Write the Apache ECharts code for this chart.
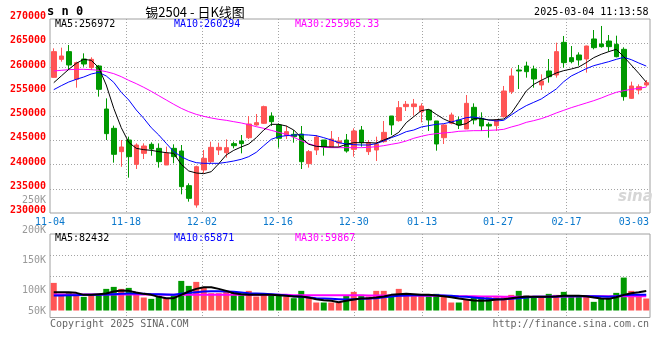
<!DOCTYPE html>
<html>
<head>
<meta charset="utf-8">
<script src="https://cdn.jsdelivr.net/npm/echarts@6/dist/echarts.min.js"></script>
<style>html,body{margin:0;padding:0;background:#fff}#c{width:660px;height:360px}</style>
</head>
<body>
<div id="c"></div>
<script>
// ---- data ----
const dates = ['11-04','11-05','11-06','11-07','11-08','11-11','11-12','11-13','11-14','11-15',
'11-18','11-19','11-20','11-21','11-22','11-25','11-26','11-27','11-28','11-29',
'12-02','12-03','12-04','12-05','12-06','12-09','12-10','12-11','12-12','12-13',
'12-16','12-17','12-18','12-19','12-20','12-23','12-24','12-25','12-26','12-27',
'12-30','12-31','01-02','01-03','01-06','01-07','01-08','01-09','01-10','01-13',
'01-14','01-15','01-16','01-17','01-20','01-21','01-22','01-23','01-24','01-27',
'02-05','02-06','02-07','02-10','02-11','02-12','02-13','02-14','02-17','02-18',
'02-19','02-20','02-21','02-24','02-25','02-26','02-27','02-28','03-03','03-04'];

const open = [257970,261680,263270,257560,261750,259970,260310,251440,247460,242650,
245050,240030,242300,244160,243330,239900,243330,242780,235640,231650,
238870,240580,242990,242440,244300,244850,245530,248150,248490,250000,
248150,245950,246220,246290,240170,242990,245050,243680,244430,245050,
243130,247110,242650,242990,244710,250000,249040,251930,251930,250890,
251240,248970,245530,248490,249180,247320,251790,249520,248280,248010,
249860,255020,259480,260310,259690,256390,259280,258450,265190,262030,
262580,261750,265880,264850,265460,264780,263750,253640,255360,256390];

const close = [263270,262370,260520,261000,260720,261680,255500,246360,242100,243610,
241620,244020,243810,243200,240580,242300,241620,235430,233020,239550,
241270,243540,243540,243470,243880,244300,248350,248630,251930,248830,
245400,246770,245740,240580,242650,245670,243680,245260,244850,242780,
246910,244500,244500,244230,246630,248150,251720,252410,252480,252060,
249180,244230,248150,250210,248150,252610,249180,247940,247940,249180,
255150,258250,259280,259140,257630,257220,258110,263270,261000,261200,
261550,264430,264090,264300,264300,262230,253990,256190,256050,256870];

const low = [257900,261200,259480,255840,260170,259480,253990,245050,240380,239540,
237290,239070,241130,241820,239350,239900,240240,233850,232340,231100,
238180,240240,241960,241410,243330,242300,245260,248010,248350,247940,
243470,245260,244500,239070,239350,241960,241820,243470,243680,242440,
241620,243680,241960,240720,244500,246080,248830,251030,250070,248690,
246910,242850,244230,248280,247320,247320,248280,246910,245530,246910,
249660,254540,255570,257900,255840,255360,256870,257900,259970,260860,
260380,258940,263750,264090,263270,262100,253160,253510,254470,256050];

const high = [263950,264090,264640,261200,262920,262100,260520,253640,248010,245050,
245740,244360,244360,244570,244360,243680,244160,244020,236120,239760,
242990,244710,244500,245190,244710,246080,250000,250410,252130,250760,
248490,248010,247110,247940,242990,246080,245050,246910,245670,246290,
247460,247940,245050,245740,248970,250000,253090,253090,253510,252610,
251380,248970,248280,250690,249860,254330,252610,250760,248690,249380,
256190,259830,260520,261200,260380,258590,261750,265120,266500,264430,
263130,264500,267730,268560,266700,266560,264160,257080,256530,257420];

const ma5 = [256870,258250,259620,260860,261680,261480,259970,256390,251580,247590,
244570,243330,243060,242920,242650,242440,242300,240030,238660,238250,
238110,238520,240170,241960,242920,243610,244230,245530,247110,248280,
248280,247940,247110,245530,244160,243750,243680,243610,243610,244160,
244500,244500,244500,244430,245050,245670,246630,248630,249860,251100,
251370,250340,249380,248690,248080,248420,249450,249450,249180,249240,
249380,250550,252820,255160,256530,257350,258110,258870,259350,259690,
260100,261000,262030,262720,263270,263750,262230,260520,258800,256972];

const ma10 = [255430,256250,257010,257560,258040,258660,259000,258250,256940,254880,
253300,251240,249520,247590,246080,244360,242650,241620,240860,240380,
240240,240240,240240,240450,240720,241070,241620,242510,243880,245190,
245740,245950,246080,246150,246080,245950,245530,245050,244500,244230,
244090,244020,244020,244300,244850,245530,246080,246770,247110,247730,
248010,248280,248420,248760,249180,249660,249790,249520,249180,248970,
249110,250210,251240,252130,252820,253510,254540,255570,257080,258250,
259000,259760,260380,260790,261200,261680,262100,261620,260930,260294];

const ma30 = [259280,259420,259550,259620,259620,259550,259420,259140,258730,258110,
257350,256670,255910,255090,254190,253300,252410,251580,250890,250340,
249930,249590,249310,249110,248830,248560,248210,247800,247460,247040,
246630,246220,245600,244910,244300,243810,243540,243470,243470,243470,
243470,243470,243540,243680,243880,244160,244430,244850,245400,245810,
246150,246360,246500,246630,246840,246910,246980,246980,247040,247110,
247250,247730,248140,248690,249040,249450,250000,250620,251170,251720,
252200,252680,253160,253710,254330,254880,255220,255500,255700,255965.33];

const volume = [116300,65900,77100,68700,57500,65900,65900,91100,99500,91100,
95300,71500,54700,49100,61700,51900,65900,124700,103700,120500,
96700,72900,72900,82700,77100,71500,82700,58900,65900,65900,
63100,58900,51900,82700,54700,33700,33700,33700,33700,61700,
78500,65900,58900,82700,82700,65900,91100,65900,68700,68700,
63100,70100,58900,33700,33700,44900,58900,58900,56100,56100,
57500,65900,82700,63100,54700,54700,70100,65900,78500,60300,
58900,60300,36500,49100,49100,74300,138700,82700,65900,50500];

const volMa5 = [77100,77100,77100,74300,65900,65900,68700,71500,79900,84100,
82700,75700,70100,65900,57500,51900,51900,65900,79900,91100,
98100,98100,91100,82700,72900,68700,65900,65900,65900,65900,
64500,61700,58900,58900,54700,47700,43500,40700,35100,40700,
46300,50500,51900,54700,58900,65900,68700,70100,68700,65900,
65900,63100,60300,56100,50500,46300,42100,40700,42100,46300,
47700,51900,56100,57500,57500,57500,57500,58900,61700,61700,
61700,60300,54700,50500,49100,56100,65900,72900,77100,82432];

const volMa10 = [63100,63100,64500,64500,65900,65900,65900,67300,68700,70100,
71500,71500,70100,68700,68700,67300,65900,70100,74300,77100,
79900,81300,81300,79900,78500,75700,72900,71500,70100,68700,
65900,63100,60300,57500,54700,51900,50500,49100,47700,46300,
47700,49100,50500,51900,56100,58900,61700,63100,64500,64500,
64500,64500,63100,61700,58900,57500,54700,51900,49100,47700,
47700,49100,51900,54700,57500,57500,57500,58900,60300,60300,
60300,60300,60300,58900,57500,60300,64500,65900,65900,65871];

const volMa30 = [67300,67300,67300,67300,67300,67300,67300,67300,67300,67300,
67300,67300,67300,67300,67300,65900,65900,65900,65900,65900,
65900,65900,65900,65900,65900,65900,65900,65900,65900,65900,
65900,65900,64500,64500,64500,64500,64500,64500,64500,64500,
64500,64500,63100,63100,63100,63100,63100,63100,63100,61700,
61700,61700,61700,60300,60300,60300,60300,58900,58900,58900,
57500,57500,57500,57500,57500,57500,57500,58900,58900,58900,
60300,60300,60300,60300,60300,60300,60300,60300,60300,59867];

const tickDates = ['11-04','11-18','12-02','12-16','12-30','01-13','01-27','02-17','03-03'];
const gridDates = ['11-18','12-02','12-16','12-30','01-13','01-27','02-17'];
const priceTicks = [230000, 270000, 5000];     // min, max, step
const volLabelTicks = [50000, 250000, 50000];  // min, max, step

// ---- styles ----
const UP = '#ff5555', DOWN = '#009900';
const MONO = '"DejaVu Sans Mono", "Liberation Mono", monospace';
const BLUE = '#0a78cc';
const dotted = {color: '#a3a3a3', width: 1, type: [1, 2]};
const lastTick = tickDates[tickDates.length - 1];

const candles = dates.map((d, i) => [open[i], close[i], low[i], high[i]]);
const volBars = volume.map((v, i) => ({value: v, itemStyle: {color: close[i] >= open[i] ? UP : DOWN}}));
const last = a => a[a.length - 1];

const chart = echarts.init(document.getElementById('c'), null, {renderer: 'canvas', width: 660, height: 360});

function txt(x, y, text, font, fill, align) {
  return {type: 'text', x: x, y: y, silent: true,
    style: {text: text, font: font, fill: fill, align: align || 'left', verticalAlign: 'middle',
            textAlign: align || 'left', textVerticalAlign: 'middle'}};
}

const option = {
  animation: false,
  backgroundColor: '#ffffff',
  grid: [
    {left: 50, top: 19, width: 600, height: 194, show: true, borderColor: '#a0a0a0', borderWidth: 1, backgroundColor: 'transparent', outerBoundsMode: 'none', containLabel: false},
    {left: 50, top: 234, width: 600, height: 83.5, show: true, borderColor: '#a0a0a0', borderWidth: 1, backgroundColor: 'transparent', outerBoundsMode: 'none', containLabel: false},
    {left: 50, top: 200.3, width: 600, height: 120, show: false, outerBoundsMode: 'none', containLabel: false},
    {left: 50, top: 234, width: 600, height: 62.7, show: false, outerBoundsMode: 'none', containLabel: false}
  ],
  xAxis: [
    {gridIndex: 0, type: 'category', data: dates, boundaryGap: true, show: false},
    {gridIndex: 0, type: 'category', data: dates, boundaryGap: false, position: 'bottom',
      axisLine: {show: false}, axisTick: {show: false},
      axisLabel: {show: true, interval: (i, v) => tickDates.includes(v), margin: 3,
        color: BLUE, fontSize: 10, fontFamily: MONO, lineHeight: 12,
        formatter: v => v === lastTick ? '{r|' + v + '}' : v,
        rich: {r: {padding: [0, 17, 0, 0], color: BLUE, fontSize: 10, fontFamily: MONO, lineHeight: 12}}},
      splitLine: {show: true, interval: (i, v) => gridDates.includes(v), lineStyle: dotted}},
    {gridIndex: 1, type: 'category', data: dates, boundaryGap: true, show: false},
    {gridIndex: 1, type: 'category', data: dates, boundaryGap: false,
      axisLine: {show: false}, axisTick: {show: false}, axisLabel: {show: false},
      splitLine: {show: true, interval: (i, v) => gridDates.includes(v), lineStyle: dotted}},
    {gridIndex: 2, type: 'value', min: 0, max: 1, show: false},
    {gridIndex: 3, type: 'value', min: 0, max: 1, show: false}
  ],
  yAxis: [
    {gridIndex: 0, type: 'value', min: priceTicks[0], max: priceTicks[1], interval: priceTicks[2],
      axisLine: {show: false}, axisTick: {show: false},
      axisLabel: {margin: 4, formatter: v => '{a|' + v + '}',
        rich: {a: {color: '#ff0000', fontWeight: 'bold', fontSize: 10, fontFamily: MONO, lineHeight: 12, padding: [0, 0, 5, 0]}}},
      splitLine: {show: true, showMinLine: false, showMaxLine: false, lineStyle: dotted}},
    {gridIndex: 1, type: 'value', min: -29400, max: 322140, show: false},
    {gridIndex: 2, type: 'value', min: volLabelTicks[0], max: volLabelTicks[1], interval: volLabelTicks[2],
      axisLine: {show: false}, axisTick: {show: false}, splitLine: {show: false},
      axisLabel: {margin: 4, color: '#999999', fontSize: 10, fontFamily: MONO, lineHeight: 12,
        formatter: v => v === volLabelTicks[0] ? '{b|' + (v / 1000) + 'K}' : (v / 1000) + 'K',
        rich: {b: {color: '#999999', fontSize: 10, fontFamily: MONO, lineHeight: 12, padding: [0, 0, 18, 0]}}}},
    {gridIndex: 3, type: 'value', min: 0, max: 3, interval: 1, inverse: true,
      axisLine: {show: false}, axisTick: {show: false}, axisLabel: {show: false},
      splitLine: {show: true, showMinLine: false, showMaxLine: false, lineStyle: dotted}}
  ],
  series: [
    {type: 'candlestick', xAxisIndex: 0, yAxisIndex: 0, data: candles, barWidth: 5, silent: true,
      itemStyle: {color: UP, color0: DOWN, borderColor: UP, borderColor0: DOWN, borderWidth: 1}},
    {type: 'line', xAxisIndex: 0, yAxisIndex: 0, data: ma30, symbol: 'none', silent: true,
      lineStyle: {color: '#ff00ff', width: 1}, itemStyle: {color: '#ff00ff'}},
    {type: 'line', xAxisIndex: 0, yAxisIndex: 0, data: ma10, symbol: 'none', silent: true,
      lineStyle: {color: '#0000ff', width: 1}, itemStyle: {color: '#0000ff'}},
    {type: 'line', xAxisIndex: 0, yAxisIndex: 0, data: ma5, symbol: 'none', silent: true,
      lineStyle: {color: '#000000', width: 1}, itemStyle: {color: '#000000'}},
    {type: 'bar', xAxisIndex: 2, yAxisIndex: 1, data: volBars, barWidth: 6, silent: true},
    {type: 'line', xAxisIndex: 2, yAxisIndex: 1, data: volMa30, symbol: 'none', silent: true,
      lineStyle: {color: '#ff00ff', width: 2}, itemStyle: {color: '#ff00ff'}},
    {type: 'line', xAxisIndex: 2, yAxisIndex: 1, data: volMa10, symbol: 'none', silent: true,
      lineStyle: {color: '#0000ff', width: 2}, itemStyle: {color: '#0000ff'}},
    {type: 'line', xAxisIndex: 2, yAxisIndex: 1, data: volMa5, symbol: 'none', silent: true,
      lineStyle: {color: '#000000', width: 2}, itemStyle: {color: '#000000'}}
  ],
  graphic: [
    txt(47, 12, 's n 0', 'bold 12px ' + MONO, '#000000'),
    txt(195, 12, '锡2504 - 日K线图', '13px "Noto Sans CJK SC"', '#000000', 'center'),
    txt(648.5, 12, '2025-03-04 11:13:58', '10px ' + MONO, '#000000', 'right'),
    txt(55, 24, 'MA5:' + last(ma5), '10px ' + MONO, '#000000'),
    txt(174, 24, 'MA10:' + last(ma10), '10px ' + MONO, '#0000ff'),
    txt(295, 24, 'MA30:' + last(ma30), '10px ' + MONO, '#ff00ff'),
    txt(55, 238.5, 'MA5:' + last(volMa5), '10px ' + MONO, '#000000'),
    txt(174, 238.5, 'MA10:' + last(volMa10), '10px ' + MONO, '#0000ff'),
    txt(295, 238.5, 'MA30:' + last(volMa30), '10px ' + MONO, '#ff00ff'),
    txt(50, 324, 'Copyright 2025 SINA.COM', '10px ' + MONO, '#666666'),
    txt(649, 324, 'http://finance.sina.com.cn', '10px ' + MONO, '#666666', 'right'),
    txt(618, 197, 'sina', 'italic bold 15px "DejaVu Sans"', '#d6d6d6')
  ]
};
chart.setOption(option);
</script>
</body>
</html>
